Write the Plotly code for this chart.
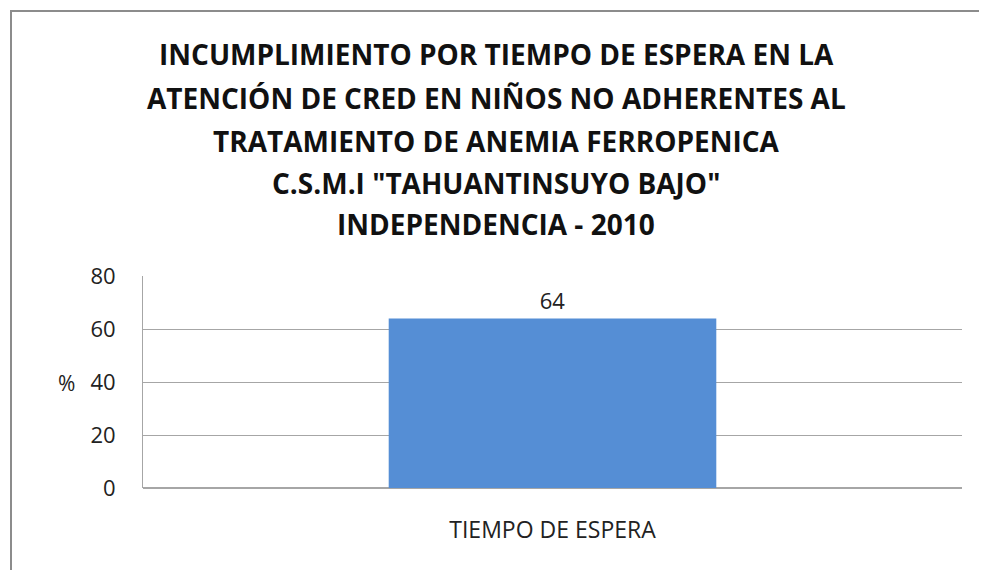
import plotly.graph_objects as go

categories = ["TIEMPO DE ESPERA"]
values = [64]
title_lines = [
    "INCUMPLIMIENTO POR TIEMPO DE ESPERA EN LA",
    "ATENCIÓN DE CRED EN NIÑOS NO ADHERENTES AL",
    "TRATAMIENTO DE ANEMIA FERROPENICA",
    "C.S.M.I \"TAHUANTINSUYO BAJO\"",
    "INDEPENDENCIA - 2010",
]
y_ticks = [0, 20, 40, 60, 80]

OFF = 8  # page body margin
W, H = 987 - OFF, 570 - OFF
L, R, T, B = 143 - OFF, 25, 276 - OFF, 82
pw, ph = W - L - R, H - T - B

fig = go.Figure(go.Bar(
    x=categories, y=values, width=0.4,
    marker=dict(color="#558ED5", line=dict(width=0)),
    text=[str(v) for v in values], textposition="outside",
    textfont=dict(family="Open Sans", size=22, color="#222"),
    cliponaxis=False,
))

def py(ypix):
    return (H - B - (ypix - OFF)) / ph

def px(xpix):
    return ((xpix - OFF) - L) / pw

title_y = [54, 98, 141, 183, 224]
anns = []
for line, yy in zip(title_lines, title_y):
    anns.append(dict(text="<b>" + line + "</b>", xref="paper", yref="paper",
                     x=px(496), y=py(yy), showarrow=False, xanchor="center", yanchor="middle",
                     font=dict(family="Open Sans", size=28, color="#111")))
anns.append(dict(text="%", xref="paper", yref="paper", x=px(66), y=py(383), showarrow=False,
                 xanchor="center", yanchor="middle", font=dict(family="Open Sans", size=21, color="#222")))

fig.update_layout(
    width=W, height=H, margin=dict(l=L, r=R, t=T, b=B),
    paper_bgcolor="white", plot_bgcolor="white", showlegend=False,
    annotations=anns,
    shapes=[dict(type="rect", xref="paper", yref="paper",
                 x0=px(11), y0=-2, x1=1.3, y1=py(11),
                 line=dict(color="#8c8c8c", width=2), layer="below")],
    xaxis=dict(range=[-0.5, 0.5], showgrid=False, showline=False, ticks="",
               tickfont=dict(family="Open Sans", size=23, color="#222"), ticklabelstandoff=26),
    yaxis=dict(range=[0, 80], tickvals=y_ticks, showgrid=True, gridcolor="#a6a6a6", gridwidth=1,
               showline=True, linecolor="#a6a6a6", linewidth=1, zeroline=True, zerolinecolor="#a6a6a6",
               ticks="", tickfont=dict(family="Open Sans", size=22, color="#222"), ticklabelstandoff=22),
)
fig.write_html("out.html")
